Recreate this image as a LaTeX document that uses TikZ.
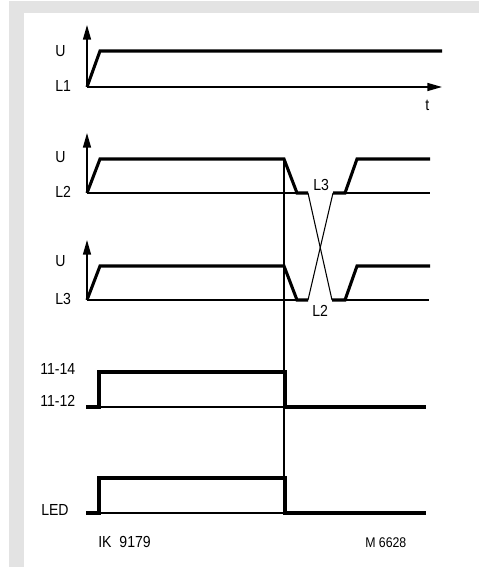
\documentclass[tikz,border=0pt]{standalone}
\usepackage{fontspec}
\setmainfont{Liberation Sans}[FakeStretch=0.88]
\usetikzlibrary{arrows.meta}
\definecolor{bggray}{HTML}{E3E3E3}
\tikzset{
  wave/.style={line width=2.3pt, line join=miter},
  axis/.style={line width=1.1pt},
  hair/.style={line width=0.8pt},
  arr/.style={-{Triangle[length=11pt,width=6pt]}},
  lbl/.style={anchor=west, inner sep=0pt, font=\fontsize{12}{14}\selectfont},
  small/.style={anchor=west, inner sep=0pt, font=\fontsize{10.5}{12}\selectfont}
}
\begin{document}
\begin{tikzpicture}[x=0.75pt,y=-0.75pt]
\useasboundingbox (0,0) rectangle (480,567);
\fill[bggray] (9,1) rectangle (479,13);
\fill[bggray] (9,1) rectangle (24,567);
% Chart 1
\draw[axis,arr] (87,87) -- (87,25);
\draw[axis,arr] (87,87) -- (442,87);
\draw[wave] (87,87) -- (100,51) -- (442,51);
\node[lbl] (u1) at (55,51) {U};
\node[lbl] (l1) at (55,86) {L1};
\node[lbl] (t) at (425,105) {t};
% Chart 2
\draw[axis,arr] (87,193) -- (87,133);
\draw[hair] (87,193) -- (297,193);
\draw[hair] (345,193) -- (430,193);
\draw[wave] (87,193) -- (100,159) -- (284,159) -- (297,193) -- (308,193);
\draw[wave] (333,193) -- (345,193) -- (357,159) -- (430,159);
\node[lbl] (u2) at (55,157) {U};
\node[lbl] (l2) at (55,192) {L2};
% Chart 3
\draw[axis,arr] (87,300) -- (87,240);
\draw[hair] (87,300) -- (297,300);
\draw[hair] (345,300) -- (429,300);
\draw[wave] (87,300) -- (100,266) -- (284,266) -- (297,300) -- (308,300);
\draw[wave] (332,300) -- (345,300) -- (357,266) -- (430,266);
\node[lbl] (u3) at (55,261) {U};
\node[lbl] (l3) at (55,299) {L3};
% crossing
\draw[hair] (308,193) -- (332,300);
\draw[hair] (308,300) -- (333,193);
\node[lbl] (x3) at (313,185) {L3};
\node[lbl] (x2) at (312,311) {L2};
% vertical marker
\draw[hair] (284,159) -- (284,513);
% Chart 4
\draw[hair] (99,407) -- (285,407);
\draw[wave] (86,407) -- (99,407) -- (99,372) -- (285,372) -- (285,407) -- (426,407);
\node[lbl] (k14) at (40,369) {11-14};
\node[lbl] (k12) at (40,401) {11-12};
% Chart 5
\draw[hair] (99,513) -- (285,513);
\draw[wave] (86,513) -- (99,513) -- (99,478) -- (285,478) -- (285,513) -- (426,513);
\node[lbl] (led) at (41,510) {LED};
% footer
\node[lbl] (ik) at (98,541.5) {IK\hspace{3pt} 9179};
\node[small] (m) at (365,542.5) {M 6628};
\end{tikzpicture}
\end{document}
